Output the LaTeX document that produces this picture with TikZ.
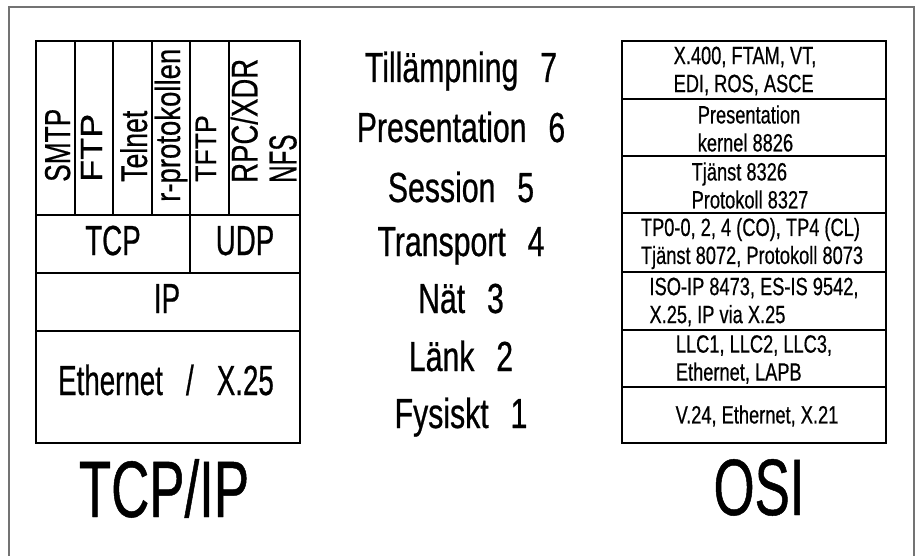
\documentclass[tikz,border=0pt]{standalone}
\usepackage{fontspec}
\setmainfont{Liberation Sans}[FakeBold=0.6]
\newfontfamily\fn{Liberation Sans}[FakeStretch=0.73,FakeBold=0.55]
\newfontfamily\fm{Liberation Sans}[FakeStretch=0.72,WordSpace=2.6,FakeBold=0.6]
\newfontfamily\fc{Liberation Sans}[FakeStretch=0.66,WordSpace=3,FakeBold=0.6]
\newcommand\sq[3]{\scalebox{#1}[#2]{#3}}
\begin{document}
\begin{tikzpicture}[x=1pt,y=1pt,
  cell/.style={draw=black, line width=1.3pt},
  frame/.style={draw=black!55, line width=1.2pt},
  rot/.style={rotate=90, anchor=base west, inner sep=0pt, font=\fontsize{36}{39}\selectfont},
  osi/.style={inner sep=0pt, align=left, font=\fn\fontsize{25}{28}\selectfont},
  mid/.style={anchor=base, inner sep=0pt, font=\fm\fontsize{42}{50}\selectfont},
  lay/.style={anchor=base, inner sep=0pt, font=\fc\fontsize{42}{50}\selectfont},
  big/.style={anchor=base, inner sep=0pt, font=\fc\fontsize{80}{90}\selectfont}]
\useasboundingbox (0,0) rectangle (917,-556);
\draw[frame] (9,-556) -- (9,-7) -- (914,-7) -- (914,-556);
% TCP/IP stack
\draw[cell] (36,-41) rectangle (300,-443);
\draw[cell] (36,-215) -- (300,-215) (36,-273) -- (300,-273) (36,-331) -- (300,-331);
\draw[cell] (75,-41) -- (75,-215) (113,-41) -- (113,-215) (152,-41) -- (152,-215)
  (190,-41) -- (190,-273) (229,-41) -- (229,-215);
\node[rot] (smtp) at (70,-182) {\sq{0.73}{1.0}{SMTP}};
\node[rot] (ftp) at (102,-182) {\sq{1.0}{0.85}{FTP}};
\node[rot] (telnet) at (147,-182) {\sq{0.74}{1.03}{Telnet}};
\node[rot] (rprot) at (180,-202) {\sq{0.765}{0.97}{r-protokollen}};
\node[rot] (tftp) at (216,-182) {\sq{0.74}{0.82}{TFTP}};
\node[rot, anchor=south west, align=left] (rpc) at (297,-183)
  {\sq{0.765}{1.03}{RPC/XDR}\\\sq{0.67}{1.08}{NFS}};
\node[lay] (tcp) at (113,-255) {TCP};
\node[lay] (udp) at (245,-255) {UDP};
\node[lay] (ip) at (167,-313) {IP};
\node[lay] (eth) at (166,-395) {Ethernet / X.25};
\node[big] (tcpip) at (164,-517) {TCP/IP};
% layer names
\node[mid] (l7) at (461,-82) {Tillämpning 7};
\node[mid] (l6) at (461,-142) {Presentation 6};
\node[mid] (l5) at (461,-202) {Session 5};
\node[mid] (l4) at (461,-256) {Transport 4};
\node[mid] (l3) at (461,-313) {Nät 3};
\node[mid] (l2) at (461,-371) {Länk 2};
\node[mid] (l1) at (461,-428) {Fysiskt 1};
% OSI stack
\draw[cell] (622,-41) rectangle (886,-443);
\draw[cell] (622,-99) -- (886,-99) (622,-156) -- (886,-156) (622,-213) -- (886,-213)
  (622,-272) -- (886,-272) (622,-330) -- (886,-330) (622,-387) -- (886,-387);
\node[osi] (o7) at (745,-71) {X.400, FTAM, VT,\\EDI, ROS, ASCE};
\node[osi] (o6) at (749,-128.5) {Presentation\\kernel 8826};
\node[osi] (o5) at (750,-185.5) {Tjänst 8326\\Protokoll 8327};
\node[osi] (o4) at (752,-243.5) {TP0-0, 2, 4 (CO), TP4 (CL)\\Tjänst 8072, Protokoll 8073};
\node[osi] (o3) at (754,-302) {ISO-IP 8473, ES-IS 9542,\\X.25, IP via X.25};
\node[osi] (o2) at (754,-359.5) {LLC1, LLC2, LLC3,\\Ethernet, LAPB};
\node[osi] (o1) at (757,-416) {V.24, Ethernet, X.21};
\node[big] (osi) at (759,-515) {OSI};
\end{tikzpicture}
\end{document}
